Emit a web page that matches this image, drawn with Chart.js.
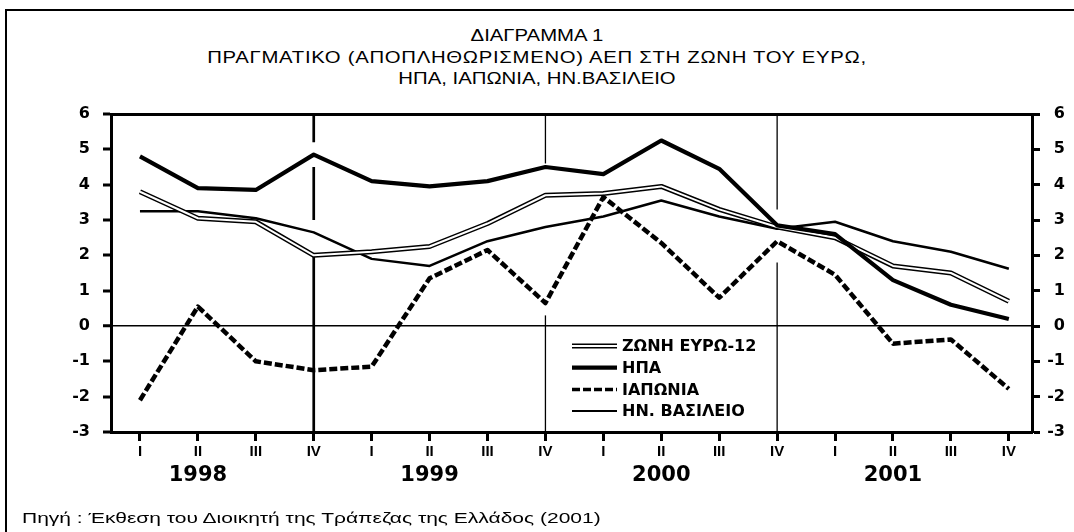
<!DOCTYPE html>
<html>
<head>
<meta charset="utf-8">
<script src="https://cdn.jsdelivr.net/npm/chart.js@4.4.0/dist/chart.umd.min.js"></script>
<style>
  html, body { margin: 0; padding: 0; background: #fff; overflow: hidden; }
  .frame { position: absolute; left: 5px; top: 9px; width: 1200px; height: 700px; border-left: 2px solid #000; border-top: 2px solid #000; }
  .title { position: absolute; left: 0; top: 25px; width: 1074px; text-align: center; font: 16px "Liberation Sans", Arial, sans-serif; line-height: 21.5px; color: #000; transform: scaleX(1.27); transform-origin: 537px 0; }
  .title .wide { letter-spacing: 0.55px; }
  .source { position: absolute; left: 22px; top: 509px; font: 15px "Liberation Sans", Arial, sans-serif; color: #000; white-space: nowrap; transform: scaleX(1.4); transform-origin: 0 0; }
  canvas { position: absolute; left: 0; top: 0; }
</style>
</head>
<body>
<div class="frame"></div>
<div class="title">
  <div>ΔΙΑΓΡΑΜΜΑ 1</div>
  <div class="wide">ΠΡΑΓΜΑΤΙΚΟ (ΑΠΟΠΛΗΘΩΡΙΣΜΕΝΟ) ΑΕΠ ΣΤΗ ΖΩΝΗ ΤΟΥ ΕΥΡΩ,</div>
  <div>ΗΠΑ, ΙΑΠΩΝΙΑ, ΗΝ.ΒΑΣΙΛΕΙΟ</div>
</div>
<canvas id="myChart" width="1074" height="532"></canvas>
<div class="source">Πηγή : Έκθεση του Διοικητή της Τράπεζας της Ελλάδος (2001)</div>
<script>
const ctx = document.getElementById("myChart");

const quarterLabels = ["I", "II", "III", "IV", "I", "II", "III", "IV", "I", "II", "III", "IV", "I", "II", "III", "IV"];
const years = ["1998", "1999", "2000", "2001"];
const yearTickPos = [1, 5, 9, 13];

const seriesNames = ["ΖΩΝΗ ΕΥΡΩ-12", "ΗΠΑ", "ΙΑΠΩΝΙΑ", "ΗΝ. ΒΑΣΙΛΕΙΟ"];
const euroArea = [3.8, 3.05, 2.95, 2.0, 2.1, 2.25, 2.9, 3.7, 3.75, 3.95, 3.3, 2.8, 2.5, 1.7, 1.5, 0.7];
const usa = [4.8, 3.9, 3.85, 4.85, 4.1, 3.95, 4.1, 4.5, 4.3, 5.25, 4.45, 2.85, 2.6, 1.3, 0.6, 0.2];
const japan = [-2.1, 0.55, -1.0, -1.25, -1.15, 1.35, 2.15, 0.65, 3.65, 2.35, 0.8, 2.4, 1.45, -0.5, -0.38, -1.78];
const uk = [3.25, 3.25, 3.05, 2.65, 1.9, 1.7, 2.4, 2.8, 3.1, 3.55, 3.1, 2.75, 2.95, 2.4, 2.1, 1.62];

// vertical dividers at IV of each year; visible pieces (from, to) in % units
const dividerAt = [3, 7, 11];
const dividerPieces = [
  [[6, 5.2], [4.5, 3.0], [2.0, -3]],
  [[6, 4.6], [0.3, -3]],
  [[6, 3.3], [1.8, -3]],
];

const dividerPlugin = {
  id: "dividers",
  beforeDatasetsDraw(chart, args, opts) {
    const { ctx, scales } = chart;
    const x = scales.x;
    const y = scales.y;
    ctx.save();
    ctx.strokeStyle = "#000";
    dividerAt.forEach((q, i) => {
      const px = x.getPixelForValue(q);
      ctx.lineWidth = opts.widths[i];
      dividerPieces[i].forEach(([a, b]) => {
        ctx.beginPath();
        ctx.moveTo(px, y.getPixelForValue(a));
        ctx.lineTo(px, y.getPixelForValue(b));
        ctx.stroke();
      });
    });
    ctx.restore();
  },
};

// legend drawn inside the plot, below the zero line
const innerLegend = {
  id: "innerLegend",
  afterDatasetsDraw(chart, args, opts) {
    const { ctx } = chart;
    ctx.save();
    ctx.font = opts.font;
    ctx.textBaseline = "middle";
    ctx.fillStyle = "#000";
    chart.data.datasets.forEach((ds) => {
      const rowY = opts.y + ds.legendRow * opts.rowHeight;
      ctx.beginPath();
      ctx.setLineDash(ds.borderDash || []);
      ctx.lineWidth = ds.legendWidth || ds.borderWidth;
      ctx.strokeStyle = ds.borderColor;
      ctx.moveTo(opts.x, rowY);
      ctx.lineTo(opts.x + opts.sampleWidth, rowY);
      ctx.stroke();
      if (ds.label) {
        ctx.fillText(ds.label, opts.x + opts.sampleWidth + opts.gap, rowY + 1);
      }
    });
    ctx.restore();
  },
};

const tickFont = { family: "DejaVu Sans", size: 16, weight: "bold" };

const gdpChart = new Chart(ctx, {
  type: "line",
  data: {
    labels: quarterLabels.map((q, i) => i),
    datasets: [
      { label: seriesNames[0], data: euroArea, borderColor: "#000", borderWidth: 5, legendRow: 0, order: 3 },
      { label: "", data: euroArea, borderColor: "#fff", borderWidth: 2, legendRow: 0, order: 2 },
      { label: seriesNames[1], data: usa, borderColor: "#000", borderWidth: 4.2, legendRow: 1, order: 1 },
      { label: seriesNames[2], data: japan, borderColor: "#000", borderWidth: 4.5, borderDash: [8, 3], legendWidth: 3.5, legendRow: 2, order: 0 },
      { label: seriesNames[3], data: uk, borderColor: "#000", borderWidth: 2.5, legendWidth: 2, legendRow: 3, order: 4 },
    ],
  },
  options: {
    responsive: false,
    animation: false,
    layout: { padding: { top: 114, bottom: 45, left: 0, right: 9 } },
    elements: {
      point: { radius: 0, hoverRadius: 0 },
      line: { tension: 0, fill: false, borderJoinStyle: "round", borderCapStyle: "butt" },
    },
    plugins: {
      legend: { display: false },
      tooltip: { enabled: false },
      title: { display: false },
      dividers: { widths: [2.7, 1.3, 1.3] },
      innerLegend: { x: 572, y: 346, rowHeight: 21.7, sampleWidth: 45, gap: 5, font: "bold 16px 'DejaVu Sans'" },
    },
    scales: {
      x: {
        type: "linear",
        position: "bottom",
        min: -0.5,
        max: 15.4,
        weight: 0,
        afterBuildTicks: (axis) => {
          axis.ticks = quarterLabels.map((q, i) => ({ value: i }));
        },
        afterFit: (axis) => {
          axis.height = 30;
        },
        ticks: {
          callback: (v) => quarterLabels[v],
          autoSkip: false,
          maxRotation: 0,
          padding: 2,
          color: "#000",
          font: { family: "Liberation Sans", size: 15, weight: "bold" },
        },
        grid: { drawOnChartArea: false, drawTicks: true, tickLength: 9, tickWidth: 3, tickColor: "#000" },
        border: { display: true, color: "#000", width: 3 },
      },
      xYear: {
        type: "linear",
        position: "bottom",
        min: -0.5,
        max: 15.4,
        weight: 1,
        afterBuildTicks: (axis) => {
          axis.ticks = yearTickPos.map((v) => ({ value: v }));
        },
        afterFit: (axis) => {
          axis.height = 25;
        },
        ticks: {
          callback: (v, i) => years[i],
          autoSkip: false,
          maxRotation: 0,
          padding: 1,
          color: "#000",
          font: { family: "DejaVu Sans", size: 21, weight: "bold" },
        },
        grid: { display: false, drawTicks: false },
        border: { display: false },
      },
      xTop: {
        type: "linear",
        position: "top",
        min: -0.5,
        max: 15.4,
        afterFit: (axis) => {
          axis.height = 0;
        },
        ticks: { display: false },
        grid: { display: false, drawTicks: false },
        border: { display: true, color: "#000", width: 3 },
      },
      y: {
        position: "left",
        min: -3,
        max: 6,
        afterFit: (axis) => {
          axis.width = 111;
        },
        ticks: { stepSize: 1, padding: 13, color: "#000", font: tickFont },
        grid: {
          color: (c) => (c.tick && c.tick.value === 0 ? "#000" : "rgba(0,0,0,0)"),
          lineWidth: (c) => (c.tick && c.tick.value === 0 ? 1.5 : 0),
          drawTicks: true,
          tickLength: 8,
          tickWidth: 3,
          tickColor: "#000",
        },
        border: { display: true, color: "#000", width: 3 },
      },
      yRight: {
        position: "right",
        min: -3,
        max: 6,
        afterFit: (axis) => {
          axis.width = 33;
        },
        ticks: { stepSize: 1, crossAlign: "far", color: "#000", font: tickFont },
        grid: { drawOnChartArea: false, drawTicks: true, tickLength: 8, tickWidth: 3, tickColor: "#000" },
        border: { display: true, color: "#000", width: 3 },
      },
    },
  },
  plugins: [dividerPlugin, innerLegend],
});
</script>
</body>
</html>
